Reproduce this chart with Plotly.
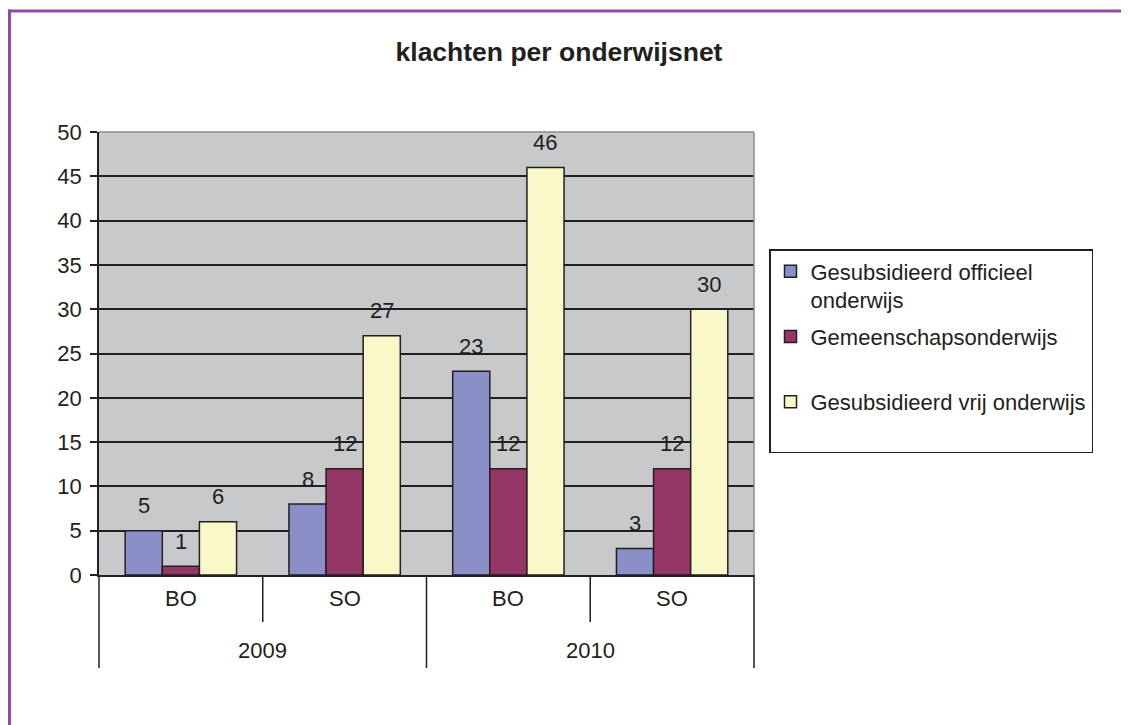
import plotly.graph_objects as go

years = ["2009", "2010"]
levels = ["BO", "SO"]
categories = [("2009", "BO"), ("2009", "SO"), ("2010", "BO"), ("2010", "SO")]
series_names = ["Gesubsidieerd officieel<br>onderwijs", "Gemeenschapsonderwijs<br> ", "Gesubsidieerd vrij onderwijs<br> "]
officieel = [5, 8, 23, 3]
gemeenschap = [1, 12, 12, 12]
vrij = [6, 27, 46, 30]
series_values = [officieel, gemeenschap, vrij]
colors = ["#8A8FC8", "#953766", "#F8F8C8"]
y_ticks = [0, 5, 10, 15, 20, 25, 30, 35, 40, 45, 50]

FONT = "Liberation Sans, Arial, sans-serif"
TXT = "#231f20"
BARGAP = 0.32
FS = 22

# page body margin offset of the html page
OFF = 8
W, H = 1129 - OFF, 725 - OFF
# plot area in screen pixels: x 99..754, y 132..575
L, T = 99 - OFF, 132 - OFF
R = W - (754 - OFF)
B = H - (575 - OFF)
pw, ph = W - L - R, H - T - B

def px_x(px):
    return (px - OFF - L) / pw

def px_y(py):
    return (H - B - (py - OFF)) / ph

xs = list(range(len(categories)))
fig = go.Figure()
for j, (name, vals, col) in enumerate(zip(series_names, series_values, colors)):
    fig.add_trace(go.Bar(
        x=xs, y=vals, name=name, marker=dict(color=col, line=dict(color="#231f20", width=1.5)),
        legendgroup=f"g{j}", hoverinfo="y",
    ))

annotations = []
n = len(series_values)
bw = (1 - BARGAP) / n
for j, vals in enumerate(series_values):
    for i, v in enumerate(vals):
        xc = i - (1 - BARGAP) / 2 + (j + 0.5) * bw
        annotations.append(dict(x=xc, y=v, xref="x", yref="y", text=str(v), showarrow=False,
                                yshift=25, font=dict(size=FS, color=TXT, family=FONT)))

# category labels
for i, (yr, lv) in enumerate(categories):
    annotations.append(dict(x=i, y=px_y(598), xref="x", yref="paper", text=lv, showarrow=False,
                            yanchor="middle", font=dict(size=FS, color=TXT, family=FONT)))
for g, yr in enumerate(years):
    idx = [i for i, c in enumerate(categories) if c[0] == yr]
    annotations.append(dict(x=sum(idx) / len(idx), y=px_y(650), xref="x", yref="paper", text=yr,
                            showarrow=False, yanchor="middle", font=dict(size=FS, color=TXT, family=FONT)))

shapes = []
ncat = len(categories)
for k in range(ncat + 1):
    long_line = (k % 2 == 0)
    shapes.append(dict(type="line", xref="paper", yref="paper", x0=k / ncat, x1=k / ncat,
                       y0=0, y1=px_y(668) if long_line else px_y(622),
                       line=dict(color="#231f20", width=1.5)))
# plot area gray top/right edges
shapes.append(dict(type="line", xref="paper", yref="paper", x0=0, x1=1, y0=1, y1=1,
                   line=dict(color="#8a8a8a", width=1.5), layer="above"))
shapes.append(dict(type="line", xref="paper", yref="paper", x0=1, x1=1, y0=0, y1=1,
                   line=dict(color="#8a8a8a", width=1.5), layer="above"))
# purple outer frame
shapes.append(dict(type="line", xref="paper", yref="paper", x0=px_x(8), x1=px_x(1135),
                   y0=px_y(11), y1=px_y(11), line=dict(color="#8E4BA8", width=3)))
shapes.append(dict(type="line", xref="paper", yref="paper", x0=px_x(9.5), x1=px_x(9.5),
                   y0=px_y(9.5), y1=px_y(730), line=dict(color="#8E4BA8", width=3)))

fig.update_layout(
    width=W, height=H,
    margin=dict(l=L, r=R, t=T, b=B, pad=0),
    paper_bgcolor="white", plot_bgcolor="#C8C9CB",
    barmode="group", bargap=BARGAP, bargroupgap=0,
    title=dict(text="<b>klachten per onderwijsnet</b>", x=(559 - OFF) / W, xanchor="center",
               y=1 - (52 - OFF) / H, yanchor="middle", font=dict(size=26.5, color=TXT, family=FONT)),
    xaxis=dict(range=[-0.5, ncat - 0.5], showticklabels=False, showgrid=False, zeroline=False,
               showline=True, linecolor="#231f20", linewidth=1.5, ticks=""),
    yaxis=dict(range=[0, 50], tickvals=y_ticks, showgrid=True, gridcolor="#231f20", gridwidth=1.5,
               zeroline=False, showline=True, linecolor="#231f20", linewidth=1.5,
               ticks="outside", ticklen=7, tickcolor="#231f20", tickwidth=1.5,
               ticklabelstandoff=4, tickfont=dict(size=FS, color=TXT, family=FONT)),
    legend=dict(x=px_x(769), y=px_y(249), xanchor="left", yanchor="top",
                bordercolor="#231f20", borderwidth=1.5, bgcolor="white", valign="top",
                font=dict(size=FS, color=TXT, family=FONT), tracegroupgap=5,
                itemwidth=30),
    annotations=annotations, shapes=shapes, showlegend=True,
)

fig.write_html("out.html")
